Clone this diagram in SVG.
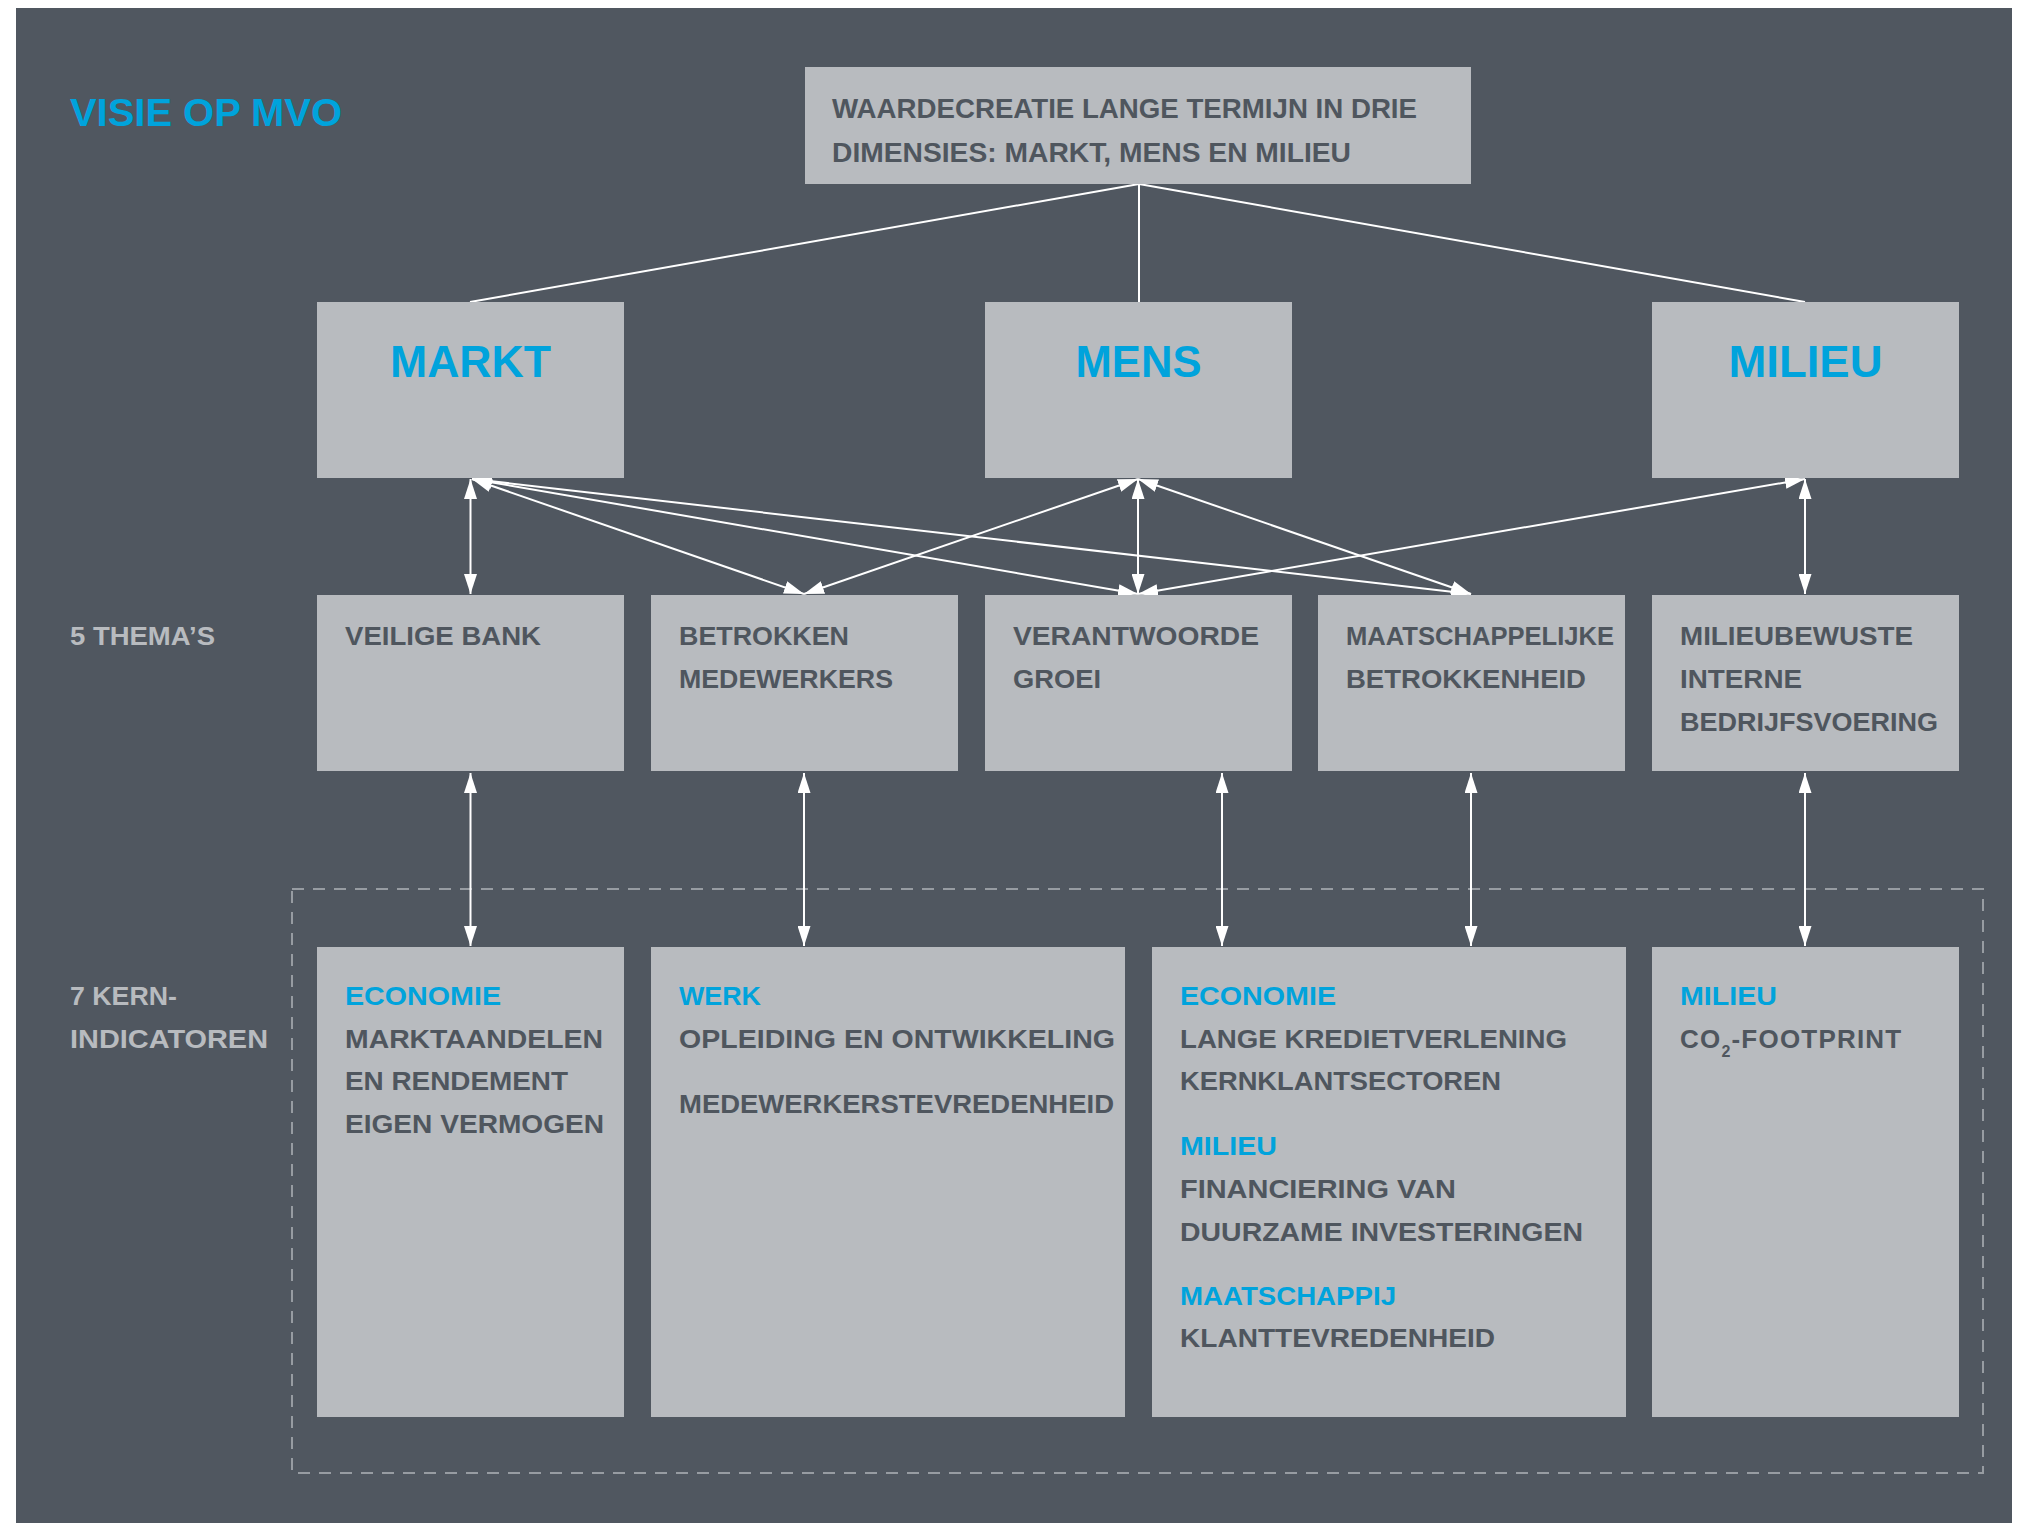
<svg xmlns="http://www.w3.org/2000/svg" width="2023" height="1523" viewBox="0 0 2023 1523">
<defs>
<style>
.bg{fill:#505760}
.box{fill:#b8bbbf}
.t{font-family:"Liberation Sans",Arial,sans-serif;font-weight:bold;font-size:26px;fill:#4f565e}
.top{font-size:28px}
.b{fill:#00a3dc}
.h{font-family:"Liberation Sans",Arial,sans-serif;font-weight:bold;font-size:45px;fill:#00a3dc;text-anchor:middle}
.lab{fill:#b8bbbf}
.title{font-family:"Liberation Sans",Arial,sans-serif;font-weight:bold;font-size:39px;fill:#00a3dc}
.ln{stroke:#ffffff;stroke-width:2;fill:none}
.ar{stroke:#ffffff;stroke-width:2;fill:none;marker-start:url(#ah);marker-end:url(#ah)}
.dash{fill:none;stroke:#979ca2;stroke-width:2;stroke-dasharray:12 9}
</style>
<marker id="ah" markerUnits="userSpaceOnUse" markerWidth="20" markerHeight="13" refX="20" refY="6.5" orient="auto-start-reverse">
<path d="M0,0 L20,6.5 L0,13 z" fill="#ffffff"/>
</marker>
</defs>
<rect x="0" y="0" width="2023" height="1523" fill="#ffffff"/>
<rect class="bg" x="16" y="8" width="1996" height="1515"/>

<text class="title" x="70" y="126" textLength="272" lengthAdjust="spacingAndGlyphs">VISIE OP MVO</text>

<g id="labels">
<text class="t lab" x="70" y="645" textLength="145" lengthAdjust="spacingAndGlyphs">5 THEMA’S</text>
<text class="t lab" x="70" y="1005" textLength="107" lengthAdjust="spacingAndGlyphs">7 KERN-</text>
<text class="t lab" x="70" y="1048" textLength="198" lengthAdjust="spacingAndGlyphs">INDICATOREN</text>
</g>

<rect id="kern-frame" class="dash" x="292" y="889" width="1691" height="584"/>

<g id="connectors">
<line class="ln" x1="1139" y1="184" x2="470" y2="302"/>
<line class="ln" x1="1139" y1="184" x2="1139" y2="302"/>
<line class="ln" x1="1139" y1="184" x2="1805" y2="302"/>
<line class="ar" x1="470.5" y1="479" x2="470.5" y2="594"/>
<line class="ar" x1="472" y1="479" x2="804" y2="594"/>
<line class="ar" x1="472" y1="479" x2="1138" y2="594"/>
<line class="ar" x1="472" y1="479" x2="1471" y2="594"/>
<line class="ar" x1="1138" y1="479" x2="804" y2="594"/>
<line class="ar" x1="1138" y1="479" x2="1138" y2="594"/>
<line class="ar" x1="1138" y1="479" x2="1471" y2="594"/>
<line class="ar" x1="1805" y1="479" x2="1138" y2="594"/>
<line class="ar" x1="1805" y1="479" x2="1805" y2="594"/>
<line class="ar" x1="470.5" y1="773" x2="470.5" y2="946"/>
<line class="ar" x1="804" y1="773" x2="804" y2="946"/>
<line class="ar" x1="1222" y1="773" x2="1222" y2="946"/>
<line class="ar" x1="1471" y1="773" x2="1471" y2="946"/>
<line class="ar" x1="1805" y1="773" x2="1805" y2="946"/>
</g>

<g id="top">
<rect class="box" x="805" y="67" width="666" height="117"/>
<text class="t top" x="832" y="118" textLength="585" lengthAdjust="spacingAndGlyphs">WAARDECREATIE LANGE TERMIJN IN DRIE</text>
<text class="t top" x="832" y="162" textLength="519" lengthAdjust="spacingAndGlyphs">DIMENSIES: MARKT, MENS EN MILIEU</text>
</g>

<g id="markt">
<rect class="box" x="317" y="302" width="307" height="176"/>
<text class="h" x="470.5" y="377" textLength="161" lengthAdjust="spacingAndGlyphs">MARKT</text>
</g>
<g id="mens">
<rect class="box" x="985" y="302" width="307" height="176"/>
<text class="h" x="1138.5" y="377" textLength="126" lengthAdjust="spacingAndGlyphs">MENS</text>
</g>
<g id="milieu">
<rect class="box" x="1652" y="302" width="307" height="176"/>
<text class="h" x="1805.5" y="377" textLength="154" lengthAdjust="spacingAndGlyphs">MILIEU</text>
</g>

<g id="veilige-bank">
<rect class="box" x="317" y="595" width="307" height="176"/>
<text class="t" x="345" y="645" textLength="196" lengthAdjust="spacingAndGlyphs">VEILIGE BANK</text>
</g>
<g id="betrokken-medewerkers">
<rect class="box" x="651" y="595" width="307" height="176"/>
<text class="t" x="679" y="645" textLength="170" lengthAdjust="spacingAndGlyphs">BETROKKEN</text>
<text class="t" x="679" y="688" textLength="214" lengthAdjust="spacingAndGlyphs">MEDEWERKERS</text>
</g>
<g id="verantwoorde-groei">
<rect class="box" x="985" y="595" width="307" height="176"/>
<text class="t" x="1013" y="645" textLength="246" lengthAdjust="spacingAndGlyphs">VERANTWOORDE</text>
<text class="t" x="1013" y="688" textLength="88" lengthAdjust="spacingAndGlyphs">GROEI</text>
</g>
<g id="maatschappelijke-betrokkenheid">
<rect class="box" x="1318" y="595" width="307" height="176"/>
<text class="t" x="1346" y="645" textLength="268" lengthAdjust="spacingAndGlyphs">MAATSCHAPPELIJKE</text>
<text class="t" x="1346" y="688" textLength="240" lengthAdjust="spacingAndGlyphs">BETROKKENHEID</text>
</g>
<g id="milieubewuste">
<rect class="box" x="1652" y="595" width="307" height="176"/>
<text class="t" x="1680" y="645" textLength="233" lengthAdjust="spacingAndGlyphs">MILIEUBEWUSTE</text>
<text class="t" x="1680" y="688" textLength="122" lengthAdjust="spacingAndGlyphs">INTERNE</text>
<text class="t" x="1680" y="731" textLength="258" lengthAdjust="spacingAndGlyphs">BEDRIJFSVOERING</text>
</g>

<g id="kern-economie">
<rect class="box" x="317" y="947" width="307" height="470"/>
<text class="t b" x="345" y="1005" textLength="156" lengthAdjust="spacingAndGlyphs">ECONOMIE</text>
<text class="t" x="345" y="1048" textLength="258" lengthAdjust="spacingAndGlyphs">MARKTAANDELEN</text>
<text class="t" x="345" y="1090" textLength="223" lengthAdjust="spacingAndGlyphs">EN RENDEMENT</text>
<text class="t" x="345" y="1133" textLength="259" lengthAdjust="spacingAndGlyphs">EIGEN VERMOGEN</text>
</g>
<g id="kern-werk">
<rect class="box" x="651" y="947" width="474" height="470"/>
<text class="t b" x="679" y="1005" textLength="82" lengthAdjust="spacingAndGlyphs">WERK</text>
<text class="t" x="679" y="1048" textLength="436" lengthAdjust="spacingAndGlyphs">OPLEIDING EN ONTWIKKELING</text>
<text class="t" x="679" y="1113" textLength="435" lengthAdjust="spacingAndGlyphs">MEDEWERKERSTEVREDENHEID</text>
</g>
<g id="kern-economie-milieu-maatschappij">
<rect class="box" x="1152" y="947" width="474" height="470"/>
<text class="t b" x="1180" y="1005" textLength="156" lengthAdjust="spacingAndGlyphs">ECONOMIE</text>
<text class="t" x="1180" y="1048" textLength="387" lengthAdjust="spacingAndGlyphs">LANGE KREDIETVERLENING</text>
<text class="t" x="1180" y="1090" textLength="321" lengthAdjust="spacingAndGlyphs">KERNKLANTSECTOREN</text>
<text class="t b" x="1180" y="1155" textLength="97" lengthAdjust="spacingAndGlyphs">MILIEU</text>
<text class="t" x="1180" y="1198" textLength="276" lengthAdjust="spacingAndGlyphs">FINANCIERING VAN</text>
<text class="t" x="1180" y="1241" textLength="403" lengthAdjust="spacingAndGlyphs">DUURZAME INVESTERINGEN</text>
<text class="t b" x="1180" y="1305" textLength="216" lengthAdjust="spacingAndGlyphs">MAATSCHAPPIJ</text>
<text class="t" x="1180" y="1347" textLength="315" lengthAdjust="spacingAndGlyphs">KLANTTEVREDENHEID</text>
</g>
<g id="kern-milieu">
<rect class="box" x="1652" y="947" width="307" height="470"/>
<text class="t b" x="1680" y="1005" textLength="97" lengthAdjust="spacingAndGlyphs">MILIEU</text>
<text class="t" x="1680" y="1048" letter-spacing="1.2">CO<tspan font-size="16" dy="9">2</tspan><tspan dy="-9">-FOOTPRINT</tspan></text>
</g>
</svg>
